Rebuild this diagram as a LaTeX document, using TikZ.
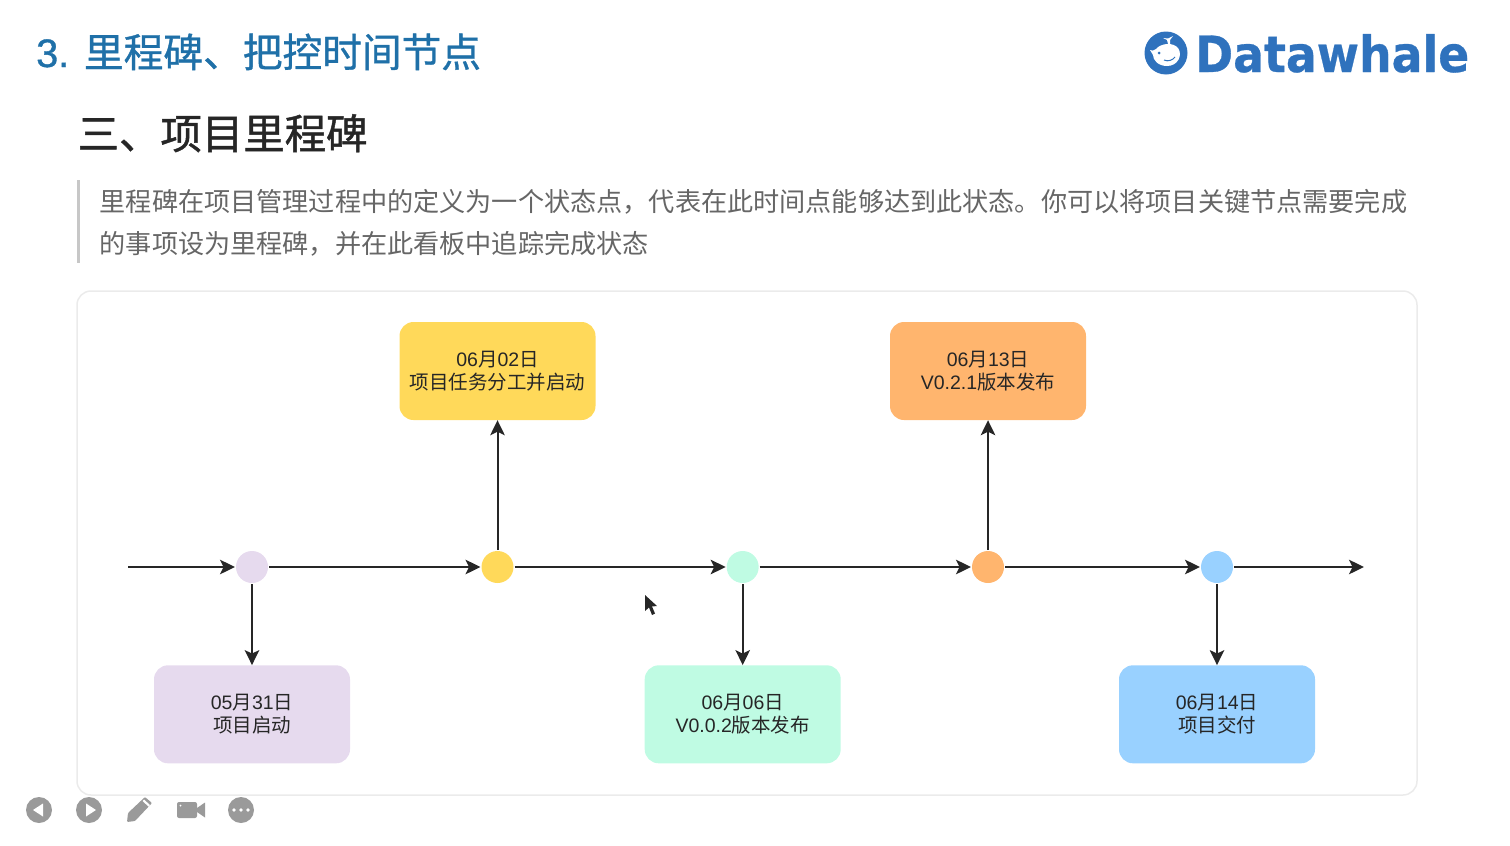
\documentclass[tikz,border=0pt]{standalone}
\usepackage{fontspec}
\setmainfont{Liberation Sans}
\newfontfamily\latinm[FakeBold=0.9]{Liberation Sans}
\newfontfamily\cjk{Noto Sans CJK SC}
\newfontfamily\cjkm[FakeBold=1.1]{Noto Sans CJK SC}
\newfontfamily\cjkt[FakeBold=0.9]{Noto Sans CJK SC}
\newfontfamily\logofont[FakeBold=0.6]{DejaVu Sans}
\usetikzlibrary{arrows.meta,positioning}
\definecolor{purplem}{HTML}{E6DAEE}
\definecolor{yellowm}{HTML}{FFD95A}
\definecolor{mintm}{HTML}{BFFBE3}
\definecolor{orangem}{HTML}{FFB56E}
\definecolor{bluem}{HTML}{99D1FF}
\definecolor{titleblue}{HTML}{1F70A8}
\definecolor{logoblue}{HTML}{2F72BD}
\definecolor{icongray}{HTML}{9A9A9A}
\tikzset{
	point/.style={circle,minimum size=32pt,inner sep=0pt,outer sep=1pt},
	card/.style={rounded corners=14pt,minimum width=196pt,minimum height=98pt,inner sep=0pt,
		align=center,text=black!85,font=\fontsize{19.5}{23.5}\selectfont},
	flow/.style={-{Stealth[length=15pt,width=14.5pt,inset=3.5pt]},line width=2pt,black!85},
	icon/.style={circle,fill=icongray,minimum size=26pt,inner sep=0pt},
}
\begin{document}
\begin{tikzpicture}[x=1pt,y=-1pt]
	\useasboundingbox (0,0) rectangle (1510,846);
	% heading
	\node[anchor=base west,inner sep=0pt,text=titleblue,font=\fontsize{39.7}{40}\selectfont\latinm] (title) at (36,67) {3. {\cjkt 里程碑、把控时间节点}};
	\node[anchor=base west,inner sep=0pt,text=black!85,font=\fontsize{41.4}{42}\selectfont\cjkm] (sub) at (77.5,149) {三、项目里程碑};
	\draw[line width=3pt,black!22] (78,180) -- (78,263);
	\node[anchor=base west,inner sep=0pt,text=black!60,font=\fontsize{26.15}{26}\selectfont\cjk] (line1) at (99.5,211) {里程碑在项目管理过程中的定义为一个状态点，代表在此时间点能够达到此状态。你可以将项目关键节点需要完成};
	\node[anchor=base west,inner sep=0pt,text=black!60,font=\fontsize{26.15}{26}\selectfont\cjk] (line2) at (99.5,253) {的事项设为里程碑，并在此看板中追踪完成状态};
	% logo
	\fill[logoblue] (1166,53) circle (21.5);
	\fill[white] (1150,50) .. controls (1152,51) and (1154,51) .. (1156,49)
		.. controls (1161,43) and (1173,42) .. (1178,48)
		.. controls (1183,55) and (1178,66) .. (1167,66)
		.. controls (1158,66) and (1153,60) .. (1153,55) -- cycle;
	\fill[white] (1168,44) -- (1167,40) -- (1163,38) -- (1168,38.5) -- (1173,36) -- (1170,40) -- (1170,44) -- cycle;
	\fill[logoblue] (1159,53) circle (1.5);
	\draw[logoblue,line width=1pt] (1164,60) .. controls (1168,62) and (1173,60) .. (1175,57);
	\node[anchor=base west,inner sep=0pt,text=logoblue,xscale=.915,font=\fontsize{50}{50}\selectfont\logofont\bfseries] (logo) at (1195,72) {Datawhale};
	% panel
	\draw[rounded corners=14pt,line width=1.5pt,black!8] (77,291) rectangle (1417,795);
	% timeline
	\coordinate (start) at (128,567);
	\coordinate (end) at (1364,567);
	\node[point,fill=purplem] (p1) at (252,567) {};
	\node[point,fill=yellowm] (p2) at (497.5,567) {};
	\node[point,fill=mintm] (p3) at (742.7,567) {};
	\node[point,fill=orangem] (p4) at (988,567) {};
	\node[point,fill=bluem] (p5) at (1217,567) {};
	\node[card,fill=purplem] (c1) at (252,714.3) {05{\cjk 月}31{\cjk 日}\\{\cjk 项目启动}};
	\node[card,fill=yellowm] (c2) at (497.5,371) {06{\cjk 月}02{\cjk 日}\\{\cjk 项目任务分工并启动}};
	\node[card,fill=mintm] (c3) at (742.7,714.3) {06{\cjk 月}06{\cjk 日}\\V0.0.2{\cjk 版本发布}};
	\node[card,fill=orangem] (c4) at (988,371) {06{\cjk 月}13{\cjk 日}\\V0.2.1{\cjk 版本发布}};
	\node[card,fill=bluem] (c5) at (1217,714.3) {06{\cjk 月}14{\cjk 日}\\{\cjk 项目交付}};
	\draw[flow] (start) -- (p1);
	\draw[flow] (p1) -- (p2);
	\draw[flow] (p2) -- (p3);
	\draw[flow] (p3) -- (p4);
	\draw[flow] (p4) -- (p5);
	\draw[flow] (p5) -- (end);
	\draw[flow] (p1) -- (c1);
	\draw[flow] (p2) -- (c2);
	\draw[flow] (p3) -- (c3);
	\draw[flow] (p4) -- (c4);
	\draw[flow] (p5) -- (c5);
	% cursor
	\fill[black!85] (645,595) -- (645,611) -- (649,607.5) -- (652,615) -- (655,613.5) -- (652,606.5) -- (657,606) -- cycle;
	% toolbar
	\node[icon] (back) at (39,810) {};
	\fill[white] (33,810) -- (43,803.5) -- (43,816.5) -- cycle;
	\node[icon] (play) at (89,810) {};
	\fill[white] (96,810) -- (86,803.5) -- (86,816.5) -- cycle;
	\fill[icongray,rounded corners=1pt] (127,822) -- (128,813) -- (145,797) -- (152,803) -- (135,821) -- cycle;
	\fill[white] (142.5,801) -- (144,799.5) -- (150,805) -- (148.5,806.5) -- cycle;
	\fill[icongray,rounded corners=2pt] (177,802) rectangle (197,818);
	\fill[icongray] (197,808) -- (205,802.5) -- (205,817.5) -- (197,812) -- cycle;
	\fill[white] (180.5,805.5) circle (1);
	\node[icon] (more) at (241,810) {};
	\fill[white] (234,810) circle (1.8) (241,810) circle (1.8) (248,810) circle (1.8);
\end{tikzpicture}
\end{document}
